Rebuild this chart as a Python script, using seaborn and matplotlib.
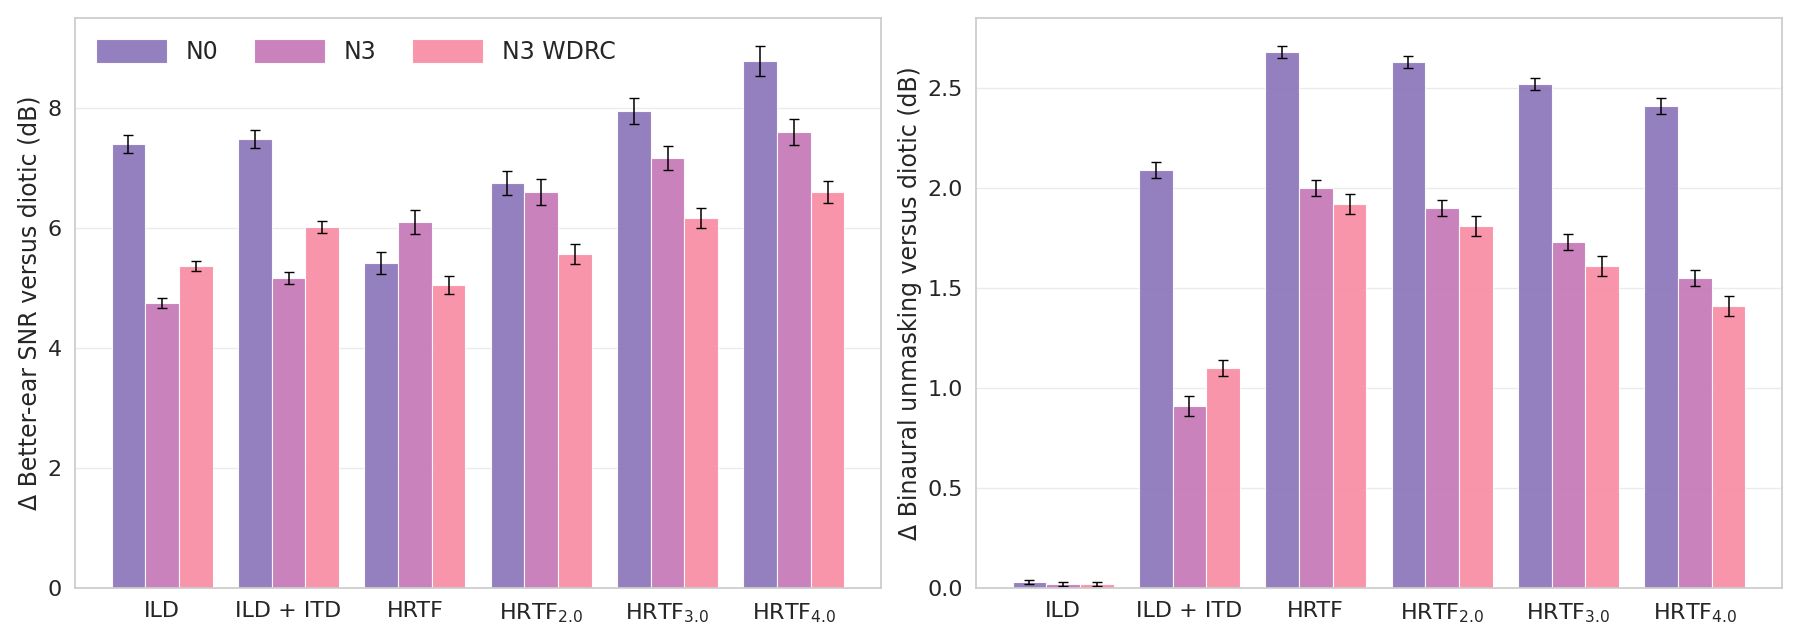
import matplotlib
matplotlib.use("Agg")
import matplotlib.pyplot as plt
import seaborn as sns
import pandas as pd
import numpy as np

sns.set_theme(style="whitegrid")
plt.rcParams['font.family'] = ['DejaVu Sans']

categories = ["ILD", "ILD + ITD", "HRTF", r"HRTF$_{2.0}$", r"HRTF$_{3.0}$", r"HRTF$_{4.0}$"]
series = ["N0", "N3", "N3 WDRC"]
colors = ["#8a72b8", "#c475b4", "#f98aa2"]

snr_n0 = [7.4, 7.48, 5.42, 6.75, 7.95, 8.78]
snr_n3 = [4.75, 5.17, 6.1, 6.6, 7.17, 7.6]
snr_wdrc = [5.37, 6.01, 5.05, 5.57, 6.17, 6.6]
snr_err_n0 = [0.15, 0.15, 0.18, 0.2, 0.22, 0.25]
snr_err_n3 = [0.08, 0.1, 0.2, 0.22, 0.2, 0.22]
snr_err_wdrc = [0.08, 0.1, 0.15, 0.17, 0.17, 0.18]

bu_n0 = [0.03, 2.09, 2.68, 2.63, 2.52, 2.41]
bu_n3 = [0.02, 0.91, 2.0, 1.9, 1.73, 1.55]
bu_wdrc = [0.02, 1.1, 1.92, 1.81, 1.61, 1.41]
bu_err_n0 = [0.01, 0.04, 0.03, 0.03, 0.03, 0.04]
bu_err_n3 = [0.01, 0.05, 0.04, 0.04, 0.04, 0.04]
bu_err_wdrc = [0.01, 0.04, 0.05, 0.05, 0.05, 0.05]

def panel(ax, vals, errs, ylabel, ylim, yticks, legend):
    df = pd.DataFrame({
        "cat": categories * 3,
        "series": sum([[s] * len(categories) for s in series], []),
        "val": sum(vals, []),
        "err": sum(errs, []),
    })
    sns.barplot(data=df, x="cat", y="val", hue="series", palette=colors, saturation=1,
                errorbar=None, ax=ax, width=0.8, alpha=0.9, edgecolor="white", linewidth=0.8,
                legend=legend)
    for cont, s in zip(ax.containers, series):
        sub = df[df.series == s]
        xs = [p.get_x() + p.get_width() / 2 for p in cont.patches]
        ax.errorbar(xs, sub.val.values, yerr=sub.err.values, fmt="none",
                    ecolor="black", elinewidth=1.1, capsize=3.5)
    ax.set_ylim(*ylim)
    ax.set_yticks(yticks)
    ax.set_xlabel("")
    ax.set_ylabel(ylabel, fontsize=17)
    ax.tick_params(labelsize=16)
    ax.grid(axis="x", visible=False)
    ax.grid(axis="y", color="#ebebeb")
    for sp in ax.spines.values():
        sp.set_color("#cccccc")
    if legend:
        ax.legend(title=None, loc="upper left", ncol=3, frameon=False, fontsize=17,
                  handlelength=3, handleheight=1.2, columnspacing=1.5)

fig, axes = plt.subplots(1, 2, figsize=(18, 6.43), dpi=100)
panel(axes[0], [snr_n0, snr_n3, snr_wdrc], [snr_err_n0, snr_err_n3, snr_err_wdrc],
      "Δ Better-ear SNR versus diotic (dB)", (0, 9.5), [0, 2, 4, 6, 8], True)
panel(axes[1], [bu_n0, bu_n3, bu_wdrc], [bu_err_n0, bu_err_n3, bu_err_wdrc],
      "Δ Binaural unmasking versus diotic (dB)", (0, 2.85), [0, 0.5, 1.0, 1.5, 2.0, 2.5], False)
plt.tight_layout(w_pad=1.0)
fig.savefig("out.png", dpi=100)
